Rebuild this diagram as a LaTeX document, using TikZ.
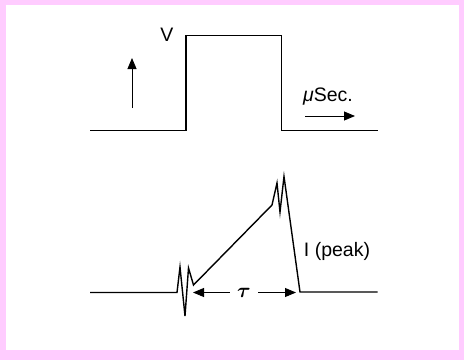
\documentclass[tikz,border=0pt]{standalone}
\usepackage{fontspec}
\setmainfont{Liberation Sans}
\usepackage{bm}
\usetikzlibrary{arrows.meta}
\definecolor{framepink}{RGB}{255,204,255}

\begin{document}
\begin{tikzpicture}[x=1pt,y=-1pt]
  \tikzstyle{wave}=[line width=1.4pt,line join=miter]
  \tikzstyle{pointer}=[line width=0.9pt,-{Triangle[length=11pt,width=9pt]}]
  \tikzstyle{lbl}=[font=\fontsize{19.5}{22}\selectfont,inner sep=0pt]
  \fill[framepink] (0,0) rectangle (464,360);
  \fill[white] (6,5) rectangle (459,349.5);
  % voltage pulse
  \draw[wave] (90,130.5) -- (186,130.5) -- (186,35.5) -- (281.5,35.5)
    -- (281.5,130.5) -- (377.5,130.5);
  \node[lbl] (v) at (167,35) {V};
  \coordinate (vlo) at (132,108);
  \coordinate (vhi) at (132,58);
  \draw[pointer] (vlo) -- (vhi);
  \node[lbl] (sec) at (328,97) {{\itshape μ}Sec.};
  \coordinate (slo) at (305,116);
  \coordinate (shi) at (355,116);
  \draw[pointer] (slo) -- (shi);
  % current
  \draw[wave] (90,292.5) -- (177,292.5) -- (180,267) -- (185,316)
    -- (188.5,268) -- (193.5,285) -- (272,205) -- (277,183) -- (280,212)
    -- (284,176.5) -- (300,292) -- (377.5,292);
  \node[lbl] (peak) at (337,251.5) {I (peak)};
  \node[lbl,minimum width=28pt] (tau) at (244,292.5) {$\bm{\tau}$};
  \coordinate (tl) at (193,292.5);
  \coordinate (tr) at (296,292.5);
  \draw[pointer] (tau.west) -- (tl);
  \draw[pointer] (tau.east) -- (tr);
\end{tikzpicture}
\end{document}
